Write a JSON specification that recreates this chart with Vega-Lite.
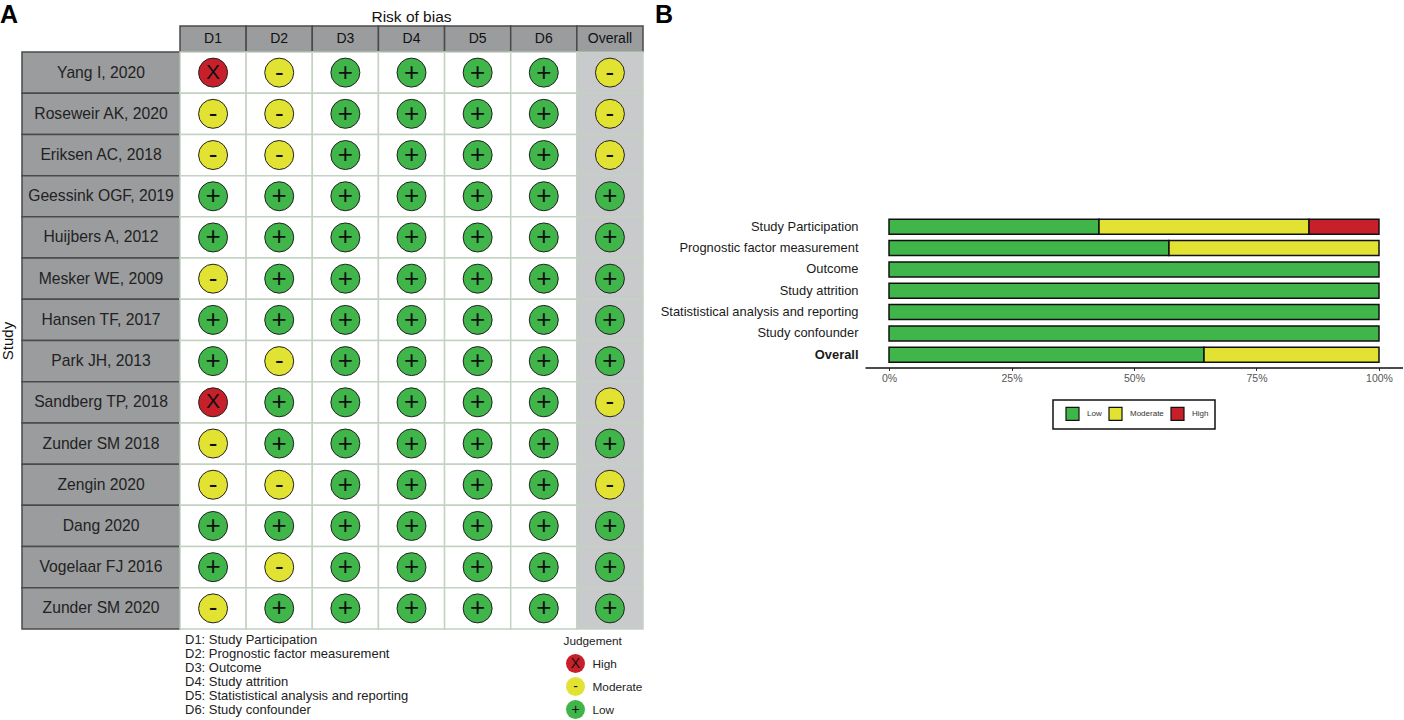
{"$schema":"https://vega.github.io/schema/vega-lite/v6.json","background":"white","padding":{"left":0,"top":3,"right":0,"bottom":0},
"config":{"view":{"stroke":null},"font":"Liberation Sans","text":{"font":"Liberation Sans"},"title":{"font":"Liberation Sans"},"axis":{"labelFont":"Liberation Sans","titleFont":"Liberation Sans"},"legend":{"labelFont":"Liberation Sans","strokeWidth":1.5,"strokeColor":"#111"}},
"datasets":{
"signs":[{"judgement":"Low","sign":"+"},{"judgement":"Moderate","sign":"-"},{"judgement":"High","sign":"X"}],
"studies":[{"study":"Yang I, 2020"},{"study":"Roseweir AK, 2020"},{"study":"Eriksen AC, 2018"},{"study":"Geessink OGF, 2019"},{"study":"Huijbers A, 2012"},{"study":"Mesker WE, 2009"},{"study":"Hansen TF, 2017"},{"study":"Park JH, 2013"},{"study":"Sandberg TP, 2018"},{"study":"Zunder SM 2018"},{"study":"Zengin 2020"},{"study":"Dang 2020"},{"study":"Vogelaar FJ 2016"},{"study":"Zunder SM 2020"}],
"domains":[{"domain":"D1"},{"domain":"D2"},{"domain":"D3"},{"domain":"D4"},{"domain":"D5"},{"domain":"D6"},{"domain":"Overall"}],
"notes":[{"note":"D1: Study Participation"},{"note":"D2: Prognostic factor measurement"},{"note":"D3: Outcome"},{"note":"D4: Study attrition"},{"note":"D5: Statististical analysis and reporting"},{"note":"D6: Study confounder"}],
"key":[{"judgement":"High"},{"judgement":"Moderate"},{"judgement":"Low"}],
"matrix":[
{"study":"Yang I, 2020","domain":"D1","judgement":"High"},{"study":"Yang I, 2020","domain":"D2","judgement":"Moderate"},{"study":"Yang I, 2020","domain":"D3","judgement":"Low"},{"study":"Yang I, 2020","domain":"D4","judgement":"Low"},{"study":"Yang I, 2020","domain":"D5","judgement":"Low"},{"study":"Yang I, 2020","domain":"D6","judgement":"Low"},{"study":"Yang I, 2020","domain":"Overall","judgement":"Moderate"},
{"study":"Roseweir AK, 2020","domain":"D1","judgement":"Moderate"},{"study":"Roseweir AK, 2020","domain":"D2","judgement":"Moderate"},{"study":"Roseweir AK, 2020","domain":"D3","judgement":"Low"},{"study":"Roseweir AK, 2020","domain":"D4","judgement":"Low"},{"study":"Roseweir AK, 2020","domain":"D5","judgement":"Low"},{"study":"Roseweir AK, 2020","domain":"D6","judgement":"Low"},{"study":"Roseweir AK, 2020","domain":"Overall","judgement":"Moderate"},
{"study":"Eriksen AC, 2018","domain":"D1","judgement":"Moderate"},{"study":"Eriksen AC, 2018","domain":"D2","judgement":"Moderate"},{"study":"Eriksen AC, 2018","domain":"D3","judgement":"Low"},{"study":"Eriksen AC, 2018","domain":"D4","judgement":"Low"},{"study":"Eriksen AC, 2018","domain":"D5","judgement":"Low"},{"study":"Eriksen AC, 2018","domain":"D6","judgement":"Low"},{"study":"Eriksen AC, 2018","domain":"Overall","judgement":"Moderate"},
{"study":"Geessink OGF, 2019","domain":"D1","judgement":"Low"},{"study":"Geessink OGF, 2019","domain":"D2","judgement":"Low"},{"study":"Geessink OGF, 2019","domain":"D3","judgement":"Low"},{"study":"Geessink OGF, 2019","domain":"D4","judgement":"Low"},{"study":"Geessink OGF, 2019","domain":"D5","judgement":"Low"},{"study":"Geessink OGF, 2019","domain":"D6","judgement":"Low"},{"study":"Geessink OGF, 2019","domain":"Overall","judgement":"Low"},
{"study":"Huijbers A, 2012","domain":"D1","judgement":"Low"},{"study":"Huijbers A, 2012","domain":"D2","judgement":"Low"},{"study":"Huijbers A, 2012","domain":"D3","judgement":"Low"},{"study":"Huijbers A, 2012","domain":"D4","judgement":"Low"},{"study":"Huijbers A, 2012","domain":"D5","judgement":"Low"},{"study":"Huijbers A, 2012","domain":"D6","judgement":"Low"},{"study":"Huijbers A, 2012","domain":"Overall","judgement":"Low"},
{"study":"Mesker WE, 2009","domain":"D1","judgement":"Moderate"},{"study":"Mesker WE, 2009","domain":"D2","judgement":"Low"},{"study":"Mesker WE, 2009","domain":"D3","judgement":"Low"},{"study":"Mesker WE, 2009","domain":"D4","judgement":"Low"},{"study":"Mesker WE, 2009","domain":"D5","judgement":"Low"},{"study":"Mesker WE, 2009","domain":"D6","judgement":"Low"},{"study":"Mesker WE, 2009","domain":"Overall","judgement":"Low"},
{"study":"Hansen TF, 2017","domain":"D1","judgement":"Low"},{"study":"Hansen TF, 2017","domain":"D2","judgement":"Low"},{"study":"Hansen TF, 2017","domain":"D3","judgement":"Low"},{"study":"Hansen TF, 2017","domain":"D4","judgement":"Low"},{"study":"Hansen TF, 2017","domain":"D5","judgement":"Low"},{"study":"Hansen TF, 2017","domain":"D6","judgement":"Low"},{"study":"Hansen TF, 2017","domain":"Overall","judgement":"Low"},
{"study":"Park JH, 2013","domain":"D1","judgement":"Low"},{"study":"Park JH, 2013","domain":"D2","judgement":"Moderate"},{"study":"Park JH, 2013","domain":"D3","judgement":"Low"},{"study":"Park JH, 2013","domain":"D4","judgement":"Low"},{"study":"Park JH, 2013","domain":"D5","judgement":"Low"},{"study":"Park JH, 2013","domain":"D6","judgement":"Low"},{"study":"Park JH, 2013","domain":"Overall","judgement":"Low"},
{"study":"Sandberg TP, 2018","domain":"D1","judgement":"High"},{"study":"Sandberg TP, 2018","domain":"D2","judgement":"Low"},{"study":"Sandberg TP, 2018","domain":"D3","judgement":"Low"},{"study":"Sandberg TP, 2018","domain":"D4","judgement":"Low"},{"study":"Sandberg TP, 2018","domain":"D5","judgement":"Low"},{"study":"Sandberg TP, 2018","domain":"D6","judgement":"Low"},{"study":"Sandberg TP, 2018","domain":"Overall","judgement":"Moderate"},
{"study":"Zunder SM 2018","domain":"D1","judgement":"Moderate"},{"study":"Zunder SM 2018","domain":"D2","judgement":"Low"},{"study":"Zunder SM 2018","domain":"D3","judgement":"Low"},{"study":"Zunder SM 2018","domain":"D4","judgement":"Low"},{"study":"Zunder SM 2018","domain":"D5","judgement":"Low"},{"study":"Zunder SM 2018","domain":"D6","judgement":"Low"},{"study":"Zunder SM 2018","domain":"Overall","judgement":"Low"},
{"study":"Zengin 2020","domain":"D1","judgement":"Moderate"},{"study":"Zengin 2020","domain":"D2","judgement":"Moderate"},{"study":"Zengin 2020","domain":"D3","judgement":"Low"},{"study":"Zengin 2020","domain":"D4","judgement":"Low"},{"study":"Zengin 2020","domain":"D5","judgement":"Low"},{"study":"Zengin 2020","domain":"D6","judgement":"Low"},{"study":"Zengin 2020","domain":"Overall","judgement":"Moderate"},
{"study":"Dang 2020","domain":"D1","judgement":"Low"},{"study":"Dang 2020","domain":"D2","judgement":"Low"},{"study":"Dang 2020","domain":"D3","judgement":"Low"},{"study":"Dang 2020","domain":"D4","judgement":"Low"},{"study":"Dang 2020","domain":"D5","judgement":"Low"},{"study":"Dang 2020","domain":"D6","judgement":"Low"},{"study":"Dang 2020","domain":"Overall","judgement":"Low"},
{"study":"Vogelaar FJ 2016","domain":"D1","judgement":"Low"},{"study":"Vogelaar FJ 2016","domain":"D2","judgement":"Moderate"},{"study":"Vogelaar FJ 2016","domain":"D3","judgement":"Low"},{"study":"Vogelaar FJ 2016","domain":"D4","judgement":"Low"},{"study":"Vogelaar FJ 2016","domain":"D5","judgement":"Low"},{"study":"Vogelaar FJ 2016","domain":"D6","judgement":"Low"},{"study":"Vogelaar FJ 2016","domain":"Overall","judgement":"Low"},
{"study":"Zunder SM 2020","domain":"D1","judgement":"Moderate"},{"study":"Zunder SM 2020","domain":"D2","judgement":"Low"},{"study":"Zunder SM 2020","domain":"D3","judgement":"Low"},{"study":"Zunder SM 2020","domain":"D4","judgement":"Low"},{"study":"Zunder SM 2020","domain":"D5","judgement":"Low"},{"study":"Zunder SM 2020","domain":"D6","judgement":"Low"},{"study":"Zunder SM 2020","domain":"Overall","judgement":"Low"}],
"summary":[
{"item":"Study Participation","judgement":"Low","rank":1,"share":0.4286},{"item":"Study Participation","judgement":"Moderate","rank":2,"share":0.4286},{"item":"Study Participation","judgement":"High","rank":3,"share":0.1428},
{"item":"Prognostic factor measurement","judgement":"Low","rank":1,"share":0.5714},{"item":"Prognostic factor measurement","judgement":"Moderate","rank":2,"share":0.4286},
{"item":"Outcome","judgement":"Low","rank":1,"share":1},{"item":"Study attrition","judgement":"Low","rank":1,"share":1},{"item":"Statististical analysis and reporting","judgement":"Low","rank":1,"share":1},{"item":"Study confounder","judgement":"Low","rank":1,"share":1},
{"item":"Overall","judgement":"Low","rank":1,"share":0.6429},{"item":"Overall","judgement":"Moderate","rank":2,"share":0.3571}]
},
"resolve":{"scale":{"fill":"independent"},"legend":{"fill":"independent"}},
"bounds":"flush","spacing":0,"columns":4,
"concat":[
  {"width":158,"height":26,"data":{"values":[{}]},"title":{"text":"A","anchor":"start","dx":-22,"offset":2,"dy":4,"fontSize":25,"fontWeight":"bold","color":"black"},"mark":{"type":"text","text":" "},"encoding":{}},
  {"width":463,"height":26,"data":{"name":"domains"},"title":{"text":"Risk of bias","anchor":"middle","offset":1,"dy":1,"fontSize":15.5,"fontWeight":"normal","color":"#111"},
   "encoding":{"x":{"field":"domain","type":"nominal","sort":null,"axis":null,"scale":{"paddingInner":0,"paddingOuter":0}}},
   "layer":[{"mark":{"type":"rect","fill":"#9a9c9e","stroke":"#4a4a4a","strokeWidth":1.5}},{"mark":{"type":"text","fontSize":14,"color":"#111"},"encoding":{"text":{"field":"domain"}}}]},
  {"width":222,"height":26,"data":{"values":[{}]},"title":{"text":"B","anchor":"start","dx":12,"offset":2,"dy":4,"fontSize":25,"fontWeight":"bold","color":"black"},"mark":{"type":"text","text":" "},"encoding":{}},
  {"width":538,"height":26,"data":{"values":[{}]},"mark":{"type":"text","text":" "},"encoding":{}},
  {"width":158,"height":577,"data":{"name":"studies"},
   "encoding":{"y":{"field":"study","type":"nominal","sort":null,"title":"Study","scale":{"paddingInner":0,"paddingOuter":0},"axis":{"labels":false,"ticks":false,"domain":false,"title":"Study","titleFontSize":15,"titleFontWeight":"normal","titleColor":"#111","titlePadding":7}}},
   "layer":[{"mark":{"type":"rect","fill":"#9a9c9e","stroke":"#4a4a4a","strokeWidth":1.5}},{"mark":{"type":"text","fontSize":15.7,"color":"#222"},"encoding":{"text":{"field":"study"}}}]},
  {"width":463,"height":577,"data":{"name":"matrix"},
   "transform":[{"lookup":"judgement","from":{"data":{"name":"signs"},"key":"judgement","fields":["sign"]}}],
   "encoding":{"x":{"field":"domain","type":"nominal","sort":null,"axis":null,"scale":{"paddingInner":0,"paddingOuter":0}},"y":{"field":"study","type":"nominal","sort":null,"axis":null,"scale":{"paddingInner":0,"paddingOuter":0}}},
   "layer":[
    {"mark":{"type":"rect","stroke":"#c4d2c4","strokeWidth":1.5},"encoding":{"fill":{"condition":{"test":"datum.domain === 'Overall'","value":"#c9cacb"},"value":"#ffffff"}}},
    {"mark":{"type":"point","filled":true,"shape":"circle","size":840,"stroke":"#222","strokeWidth":1,"opacity":1},"encoding":{"fill":{"field":"judgement","type":"nominal","legend":null,"scale":{"domain":["Low","Moderate","High"],"range":["#3fb54a","#e2e232","#c8202a"]}}}},
    {"transform":[{"filter":"datum.sign !== 'X'"}],"mark":{"type":"text","color":"#111","baseline":"middle","fontSize":26},"encoding":{"text":{"field":"sign"}}},
    {"transform":[{"filter":"datum.sign === 'X'"}],"mark":{"type":"text","color":"#111","baseline":"middle","fontSize":21},"encoding":{"text":{"field":"sign"}}}
   ]},
  {"width":222,"height":577,"data":{"values":[{}]},"mark":{"type":"text","text":" "},"encoding":{}},
  {"width":538,"height":577,"data":{"name":"summary"},
  "mark":{"type":"bar","size":15,"stroke":"#111","strokeWidth":1.5},
  "encoding":{
   "y":{"field":"item","type":"nominal","title":null,"scale":{"domain":["Study Participation","Prognostic factor measurement","Outcome","Study attrition","Statististical analysis and reporting","Study confounder","Overall"],"range":[162,315.5],"paddingInner":0,"paddingOuter":0.1},
     "axis":{"domain":false,"ticks":false,"labelPadding":7,"labelFontSize":12.9,"labelColor":"#1a1a1a","labelLimit":400,"labelFontWeight":{"condition":{"test":"datum.value === 'Overall'","value":"bold"},"value":"normal"}}},
   "x":{"field":"share","type":"quantitative","stack":"zero","title":null,"scale":{"domain":[-0.049,1.049],"nice":false,"zero":false},
     "axis":{"values":[0,0.25,0.5,0.75,1],"format":".0%","grid":false,"offset":-261.5,"domainColor":"#111","domainWidth":1.5,"tickColor":"#333","tickSize":3,"labelColor":"#555","labelFontSize":10.5,"labelPadding":3}},
   "order":{"field":"rank"},
   "fill":{"field":"judgement","type":"nominal","scale":{"domain":["Low","Moderate","High"],"range":["#3fb54a","#e2e232","#c8202a"]},
     "legend":{"title":null,"orient":"none","legendX":188,"legendY":348,"direction":"horizontal","columns":3,"columnPadding":0,"labelOffset":7,"symbolOffset":6,"symbolType":"square","symbolSize":169,"symbolStrokeColor":"#111","symbolStrokeWidth":1.2,"labelFontSize":8,"labelColor":"#333","padding":6}}
  }},
  {"width":158,"height":92,"data":{"values":[{}]},"mark":{"type":"text","text":" "},"encoding":{}},
  {"width":463,"height":92,
   "resolve":{"scale":{"y":"independent"}},
   "layer":[
    {"data":{"name":"notes"},"mark":{"type":"text","align":"left","xOffset":-226.5,"fontSize":13,"color":"#222"},"encoding":{"y":{"field":"note","type":"nominal","sort":null,"axis":null,"scale":{"type":"band","paddingInner":0,"paddingOuter":0.24}},"text":{"field":"note"}}},
    {"data":{"values":[{"judgement":"Judgement"}]},"mark":{"type":"text","align":"left","xOffset":152,"fontSize":11.8,"color":"#222"},"encoding":{"y":{"field":"judgement","type":"nominal","axis":null,"scale":{"domain":["Judgement","High","Moderate","Low"],"paddingInner":0,"paddingOuter":0}},"text":{"field":"judgement"}}},
    {"data":{"name":"key"},"mark":{"type":"point","filled":true,"shape":"circle","size":360,"opacity":1,"xOffset":164},"encoding":{"y":{"field":"judgement","type":"nominal","axis":null,"scale":{"domain":["Judgement","High","Moderate","Low"],"paddingInner":0,"paddingOuter":0}},"fill":{"field":"judgement","type":"nominal","legend":null,"scale":{"domain":["Low","Moderate","High"],"range":["#3fb54a","#e2e232","#c8202a"]}}}},
    {"data":{"name":"key"},"transform":[{"lookup":"judgement","from":{"data":{"name":"signs"},"key":"judgement","fields":["sign"]}}],"mark":{"type":"text","fontSize":14,"color":"#111","xOffset":164},"encoding":{"y":{"field":"judgement","type":"nominal","axis":null,"scale":{"domain":["Judgement","High","Moderate","Low"],"paddingInner":0,"paddingOuter":0}},"text":{"field":"sign"}}},
    {"data":{"name":"key"},"mark":{"type":"text","align":"left","xOffset":181,"fontSize":11.8,"color":"#222"},"encoding":{"y":{"field":"judgement","type":"nominal","axis":null,"scale":{"domain":["Judgement","High","Moderate","Low"],"paddingInner":0,"paddingOuter":0}},"text":{"field":"judgement"}}}
   ]}
]}
